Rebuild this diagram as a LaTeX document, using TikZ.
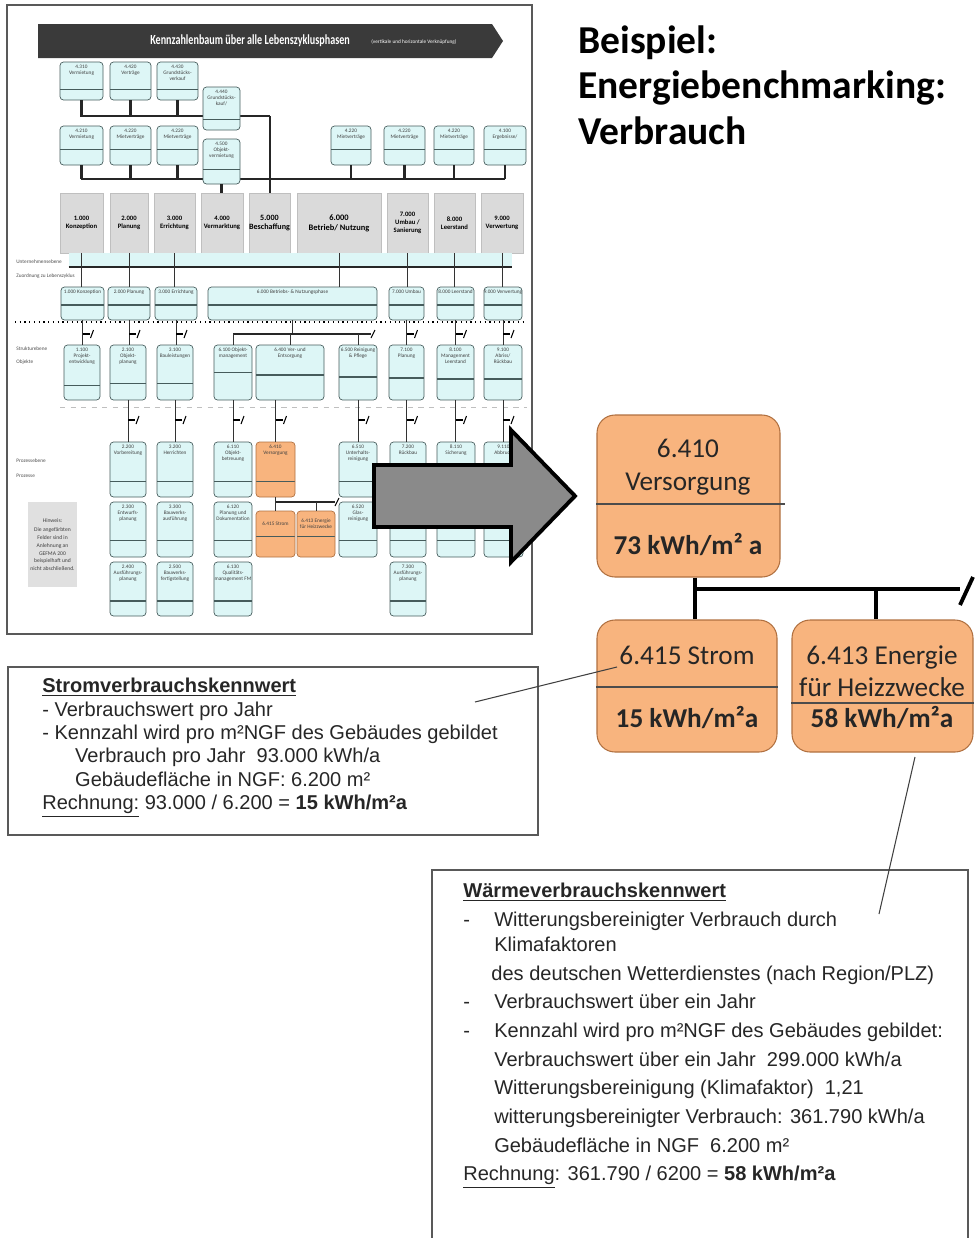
\documentclass[tikz,border=0pt]{standalone}
\usepackage{fontspec}
\setmainfont{Liberation Sans}
\newfontfamily\calibri{Carlito}
\usetikzlibrary{calc}

\definecolor{orangebox}{RGB}{248,180,126}
\definecolor{orangeline}{RGB}{176,112,64}
\definecolor{kfill}{RGB}{221,246,246}
\definecolor{kline}{RGB}{70,92,92}
\definecolor{phasefill}{RGB}{218,218,218}
\definecolor{bannergray}{RGB}{58,58,58}
\definecolor{arrowgray}{RGB}{138,138,138}

\begin{document}
\begin{tikzpicture}[
    x=0.02cm, y=-0.02cm,
    wh/.style 2 args={minimum width=#1*0.02cm, minimum height=#2*0.02cm},
    kbox/.style={draw=kline, fill=kfill, rounded corners=2pt, line width=0.4pt,
        inner sep=0pt, path picture={
        \draw[kline, line width=0.9pt]
            ($(path picture bounding box.north west)!#1!(path picture bounding box.south west)$) --
            ($(path picture bounding box.north east)!#1!(path picture bounding box.south east)$);}},
    kbox/.default=0.72,
    hbox/.style={kbox=#1, fill=orangebox, draw=orangeline},
    hbox/.default=0.72,
    klab/.style={font=\calibri\fontsize{3}{3.5}\selectfont, align=center,
        anchor=north, inner sep=0.5pt, yshift=-1pt, text=black!75},
    phase/.style={draw=black!25, fill=phasefill, inner sep=0pt, align=center,
        font=\calibri\bfseries\fontsize{3.8}{4.4}\selectfont},
    sidelab/.style={font=\calibri\fontsize{3}{3.5}\selectfont, anchor=west,
        inner sep=0pt, text=black!70},
    tline/.style={line width=1.2pt, black!85},
    fline/.style={line width=0.5pt, black!80},
    brk/.pic={\draw[line width=1.2pt] (0,0) -- (7,0);
        \draw[line width=0.6pt] (8,4) -- (11,-4);},
    frame/.style={draw=black!65, line width=0.9pt, inner sep=0pt},
    obox/.style={draw=orangeline, fill=orangebox, rounded corners=0.36cm, line width=0.6pt},
    otext/.style={font=\calibri\fontsize{15.5}{18}\selectfont, anchor=base,
        inner sep=0pt, text=black!85},
    ovalue/.style={otext, font=\calibri\bfseries\fontsize{15.5}{18}\selectfont},
    tree/.style={line width=2.8pt},
    lead/.style={line width=0.6pt, black!75}
]
    \useasboundingbox (0,0) rectangle (975,1238);

    \node[frame, wh={525}{629}] (thumb) at (269.5,319.5) {};
    \fill[bannergray] (38,24) -- (492,24) -- (503,41) -- (492,58) -- (38,58) -- cycle;
    \node[font=\calibri\bfseries\fontsize{7.2}{8}\selectfont, text=white, anchor=west,
        inner sep=0pt] (bannertitle) at (150,41)
        {\scalebox{0.8}[1.1]{Kennzahlenbaum über alle Lebenszyklusphasen}};
    \node[font=\calibri\fontsize{3}{3.5}\selectfont, text=white, anchor=west,
        inner sep=0pt] (bannersub) at (371,42) {(vertikale und horizontale Verknüpfung)};

    \node[kbox, wh={43}{38}, label={[klab]north:4.310\\Vermietung}] (t1) at (81.5,81) {};
    \node[kbox, wh={41}{38}, label={[klab]north:4.420\\Verträge}] (t2) at (130.5,81) {};
    \node[kbox, wh={41}{38}, label={[klab]north:4.430\\Grundstücks-\\verkauf}] (t3) at (177.5,81) {};
    \coordinate (j1) at (270,116);
    \draw[tline] (t1) |- (j1);
    \draw[tline] (t2) -- (t2 |- j1);
    \draw[tline] (t3) -- (t3 |- j1);
    \node[kbox=0.76, wh={37}{43}, label={[klab]north:4.440\\Grundstücks-\\kauf/}] (t4) at (221.5,108.5) {};

    \node[kbox=0.6, wh={43}{39}, label={[klab]north:4.210\\Vermietung}] (m1) at (81.5,145.5) {};
    \node[kbox=0.6, wh={41}{39}, label={[klab]north:4.220\\Mietverträge}] (m2) at (130.5,145.5) {};
    \node[kbox=0.6, wh={41}{39}, label={[klab]north:4.220\\Mietverträge}] (m3) at (177.5,145.5) {};
    \node[kbox=0.6, wh={40}{39}, label={[klab]north:4.220\\Mietverträge}] (r1) at (351,145.5) {};
    \node[kbox=0.6, wh={41}{39}, label={[klab]north:4.220\\Mietverträge}] (r2) at (404.5,145.5) {};
    \node[kbox=0.6, wh={40}{39}, label={[klab]north:4.220\\Mietverträge}] (r3) at (454,145.5) {};
    \node[kbox=0.6, wh={42}{39}, label={[klab]north:4.100\\Ergebnisse/}] (r4) at (505,145.5) {};
    \coordinate (j2) at (81,179);
    \coordinate (j3) at (505,179);
    \draw[tline] (j2) -- (j3);
    \draw[tline] (m1) -- (m1 |- j2);
    \draw[tline] (m2) -- (m2 |- j2);
    \draw[tline] (m3) -- (m3 |- j2);
    \draw[tline] (r1) -- (r1 |- j2);
    \draw[tline] (r2) -- (r2 |- j2);
    \draw[tline] (r3) -- (r3 |- j2);
    \draw[tline] (r4) -- (r4 |- j2);
    \node[kbox=0.68, wh={37}{45}, label={[klab]north:4.500\\Objekt-\\vermietung}] (m4) at (221.5,161.5) {};

    \node[phase, wh={43}{60}] (p1) at (81.5,223) {1.000\\Konzeption};
    \node[phase, wh={38}{60}] (p2) at (129,223) {2.000\\Planung};
    \node[phase, wh={41}{60}] (p3) at (174.5,223) {3.000\\Errichtung};
    \node[phase, wh={42}{60}] (p4) at (222,223) {4.000\\Vermarktung};
    \node[phase, wh={41}{60}, font=\calibri\bfseries\fontsize{4.6}{5.4}\selectfont] (p5) at (269.5,223) {5.000\\Beschaffung};
    \node[phase, wh={84}{60}, font=\calibri\bfseries\fontsize{4.8}{5.8}\selectfont] (p6) at (339,223) {6.000\\Betrieb/ Nutzung};
    \node[phase, wh={41}{60}] (p7) at (407.5,223) {7.000\\Umbau /\\Sanierung};
    \node[phase, wh={41}{60}] (p8) at (454.5,223) {8.000\\Leerstand};
    \node[phase, wh={42}{60}] (p9) at (502,223) {9.000\\Verwertung};
    \draw[tline] (j1) -- (j1 |- p5.north);
    \draw[tline] (m4) -- (m4 |- p4.north);

    \node[fill=kfill, inner sep=0pt, wh={443}{14}] (band) at (290.5,260) {};
    \draw[tline] (band.south west) -- (band.south east);
    \node[sidelab] (ebene1) at (16,262) {Unternehmensebene};
    \node[sidelab] (ebene1b) at (16,276) {Zuordnung zu Lebenszyklus};

    \node[kbox=0.55, wh={43}{33}, label={[klab]north:1.000 Konzeption}] (l1) at (82.5,303.5) {};
    \node[kbox=0.55, wh={42}{33}, label={[klab]north:2.000 Planung}] (l2) at (129,303.5) {};
    \node[kbox=0.55, wh={42}{33}, label={[klab]north:3.000 Errichtung}] (l3) at (176,303.5) {};
    \node[kbox=0.55, wh={169}{33}, label={[klab]north:6.000 Betriebs- \& Nutzungsphase}] (l6) at (292.5,303.5) {};
    \node[kbox=0.55, wh={35}{33}, label={[klab]north:7.000 Umbau}] (l7) at (406.5,303.5) {};
    \node[kbox=0.55, wh={37}{33}, label={[klab]north:8.000 Leerstand}] (l8) at (455.5,303.5) {};
    \node[kbox=0.55, wh={38}{33}, label={[klab]north:9.000 Verwertung}] (l9) at (503,303.5) {};
    \draw[fline] (p1.south) -- (p1.south |- l1.north);
    \draw[fline] (p2.south) -- (p2.south |- l2.north);
    \draw[fline] (p3.south) -- (p3.south |- l3.north);
    \draw[fline] (p6.south) -- (p6.south |- l6.north);
    \draw[fline] (p7.south) -- (p7.south |- l7.north);
    \draw[fline] (p8.south) -- (p8.south |- l8.north);
    \draw[fline] (p9.south) -- (p9.south |- l9.north);

    \draw[dotted, line width=0.7pt] (15,322) -- (527,322);
    \draw[black!25, dashed, line width=0.3pt] (60,407) -- (527,407);

    \node[sidelab] (ebene2) at (16,349) {Strukturebene};
    \node[sidelab] (ebene2b) at (16,362) {Objekte};
    \node[sidelab] (ebene3) at (16,461) {Prozessebene};
    \node[sidelab] (ebene3b) at (16,476) {Prozesse};

    \node[kbox=0.74, wh={36}{55}, label={[klab]north:1.100\\Projekt-\\entwicklung}] (s1) at (82,372.5) {};
    \node[kbox=0.7, wh={36}{55}, label={[klab]north:2.100\\Objekt-\\planung}] (s2) at (128,372.5) {};
    \node[kbox=0.7, wh={36}{55}, label={[klab]north:3.100\\Bauleistungen}] (s3) at (175,372.5) {};
    \node[kbox=0.5, wh={38}{55}, label={[klab]north:6.100 Objekt-\\management}] (s61) at (233,372.5) {};
    \node[kbox=0.55, wh={68}{55}, label={[klab]north:6.400 Ver- und\\Entsorgung}] (s64) at (290,372.5) {};
    \node[kbox=0.58, wh={38}{55}, label={[klab]north:6.500 Reinigung\\\& Pflege}] (s65) at (358,372.5) {};
    \node[kbox=0.6, wh={35}{55}, label={[klab]north:7.100\\Planung}] (s7) at (406.5,372.5) {};
    \node[kbox=0.62, wh={37}{55}, label={[klab]north:8.100\\Management\\Leerstand}] (s8) at (455.5,372.5) {};
    \node[kbox=0.62, wh={38}{55}, label={[klab]north:9.100\\Abriss/\\Rückbau}] (s9) at (503,372.5) {};
    \draw[fline] (l1.south) -- (l1.south |- s1.north);
    \draw[fline] (l2.south) -- (l2.south |- s2.north);
    \draw[fline] (l3.south) -- (l3.south |- s3.north);
    \draw[fline] (l7.south) -- (l7.south |- s7.north);
    \draw[fline] (l8.south) -- (l8.south |- s8.north);
    \draw[fline] (l9.south) -- (l9.south |- s9.north);
    \pic at (l1.south |- 0,334) {brk};
    \pic at (l2.south |- 0,334) {brk};
    \pic at (l3.south |- 0,334) {brk};
    \pic at (l7.south |- 0,334) {brk};
    \pic at (l8.south |- 0,334) {brk};
    \pic at (l9.south |- 0,334) {brk};
    \coordinate (j6) at (292,334);
    \coordinate (j6e) at (371,334);
    \draw[fline] (l6.south) -- (l6.south |- j6);
    \draw[tline] (s61.north |- j6) -- (j6e);
    \draw[line width=0.6pt] (j6e) ++(0,4) -- ++(4,-8);
    \draw[fline] (s61.north |- j6) -- (s61.north);
    \draw[fline] (s64.north |- j6) -- (s64.north);
    \draw[fline] (s65.north |- j6) -- (s65.north);

    \node[kbox, wh={36}{55}, label={[klab]north:2.200\\Vorbereitung}] (q2) at (128,469.5) {};
    \node[kbox, wh={36}{55}, label={[klab]north:3.200\\Herrichten}] (q3) at (175,469.5) {};
    \node[kbox, wh={38}{55}, label={[klab]north:6.110\\Objekt-\\betreuung}] (q61) at (233,469.5) {};
    \node[hbox, wh={39}{55}, label={[klab]north:6.410\\Versorgung}] (q64) at (275.5,469.5) {};
    \node[kbox, wh={38}{55}, label={[klab]north:6.510\\Unterhalts-\\reinigung}] (q65) at (358,469.5) {};
    \node[kbox, wh={36}{55}, label={[klab]north:7.200\\Rückbau}] (q7) at (408,469.5) {};
    \node[kbox, wh={38}{55}, label={[klab]north:8.110\\Sicherung}] (q8) at (456,469.5) {};
    \node[kbox, wh={39}{55}, label={[klab]north:9.110\\Abbruch}] (q9) at (503.5,469.5) {};
    \draw[fline] (q2.north |- s2.south) -- (q2.north);
    \draw[fline] (q3.north |- s3.south) -- (q3.north);
    \draw[fline] (q61.north |- s61.south) -- (q61.north);
    \draw[fline] (q64.north |- s64.south) -- (q64.north);
    \draw[fline] (q65.north |- s65.south) -- (q65.north);
    \draw[fline] (s7.south) -- (s7.south |- q7.north);
    \draw[fline] (s8.south) -- (s8.south |- q8.north);
    \draw[fline] (s9.south) -- (s9.south |- q9.north);
    \pic at (q2.north |- 0,420) {brk};
    \pic at (q3.north |- 0,420) {brk};
    \pic at (q61.north |- 0,420) {brk};
    \pic at (q64.north |- 0,420) {brk};
    \pic at (q65.north |- 0,420) {brk};
    \pic at (s7.south |- 0,420) {brk};
    \pic at (s8.south |- 0,420) {brk};
    \pic at (s9.south |- 0,420) {brk};

    \node[kbox=0.7, wh={36}{55}, label={[klab]north:2.300\\Entwurfs-\\planung}] (u2) at (128,529.5) {};
    \node[kbox=0.7, wh={36}{55}, label={[klab]north:3.300\\Bauwerks-\\ausführung}] (u3) at (175,529.5) {};
    \node[kbox=0.7, wh={38}{55}, label={[klab]north:6.120\\Planung und\\Dokumentation}] (u61) at (233,529.5) {};
    \node[hbox=0.55, wh={39}{46}, label={[klab, yshift=-5pt]north:6.415 Strom}] (u64a) at (275.5,534) {};
    \node[hbox=0.55, wh={38}{46}, label={[klab, yshift=-3pt]north:6.413 Energie\\für Heizzwecke}] (u64b) at (316,534) {};
    \node[kbox=0.7, wh={38}{55}, label={[klab]north:6.520\\Glas-\\reinigung}] (u65) at (358,529.5) {};
    \node[kbox=0.7, wh={36}{55}] (u7) at (408,529.5) {};
    \node[kbox=0.7, wh={38}{55}] (u8) at (456,529.5) {};
    \node[kbox=0.7, wh={39}{55}] (u9) at (503.5,529.5) {};
    \coordinate (jq) at (276,502);
    \coordinate (jqe) at (335,502);
    \draw[fline] (q64.south) -- (u64a.north);
    \draw[tline] (jq) -- (jqe);
    \draw[line width=0.6pt] (jqe) ++(0,4) -- ++(4,-8);
    \draw[fline] (u64b.north |- jq) -- (u64b.north);

    \node[kbox, wh={36}{54}, label={[klab]north:2.400\\Ausführungs-\\planung}] (v2) at (128,589) {};
    \node[kbox, wh={36}{54}, label={[klab]north:2.500\\Bauwerks-\\fertigstellung}] (v3) at (175,589) {};
    \node[kbox, wh={38}{54}, label={[klab]north:6.130\\Qualitäts-\\management FM}] (v61) at (233,589) {};
    \node[kbox, wh={36}{54}, label={[klab]north:7.300\\Ausführungs-\\planung}] (v7) at (408,589) {};

    \node[fill=black!12, wh={49}{85}, inner sep=1pt, align=center,
        font=\calibri\fontsize{3.2}{4.4}\selectfont, text=black!75] (hinweis) at (52.5,544.5)
        {Hinweis:\\[1pt]Die angefärbten\\Felder sind in\\Anlehnung an\\GEFMA 200\\beispielhaft und\\nicht abschließend.};

    \draw[line width=2.2pt, fill=arrowgray, line join=miter]
        (374,465) -- (511,465) -- (511,430) -- (575,496) -- (511,562) -- (511,527) -- (374,527) -- cycle;

    \node[anchor=north west, inner sep=0pt, align=left,
        font=\calibri\bfseries\fontsize{22.5}{26}\selectfont] (titel) at (578,25)
        {Beispiel:\\Energiebenchmarking:\\Verbrauch};

    \node[obox, wh={183}{162}] (versorgung) at (688.5,496) {};
    \node[obox, wh={180}{132}] (strom) at (687,686) {};
    \node[obox, wh={181}{132}] (heizung) at (882.5,686) {};
    \draw[black!70, line width=0.7pt] (versorgung.west |- 0,504) -- (785,504);
    \draw[black!70, line width=0.7pt] (strom.west |- 0,687) -- (strom.east |- 0,687);
    \draw[black!70, line width=0.7pt] (heizung.west |- 0,703) -- (heizung.east |- 0,703);
    \node[otext] (vnum) at (688,457) {6.410};
    \node[otext] (vname) at (688,490) {Versorgung};
    \node[ovalue] (vval) at (688,554) {73 kWh/m² a};
    \node[otext] (snum) at (687,664) {6.415 Strom};
    \node[ovalue] (sval) at (687,727) {15 kWh/m²a};
    \node[otext] (hnum) at (882,664) {6.413 Energie};
    \node[otext] (hname) at (882,696) {für Heizzwecke};
    \node[ovalue] (hval) at (882,727) {58 kWh/m²a};

    \coordinate (jv) at (695,589);
    \coordinate (jh) at (876,589);
    \coordinate (jend) at (960,589);
    \draw[tree] (jv |- versorgung.south) -- (jv |- strom.north);
    \draw[tree] (jv) -- (jend);
    \draw[tree] (jh) -- (jh |- heizung.north);
    \draw[tree, line width=2.2pt] (jend) ++(0,16) -- ++(13,-28);

    \node[frame, wh={530}{168}] (stromkasten) at (273,751) {};
    \node[anchor=north west, inner sep=0pt, align=left, text=black!85,
        font=\fontsize{11.4}{13.3}\selectfont] (stromtext) at (42,678)
        {\textbf{\underline{Stromverbrauchskennwert}}\\
        - Verbrauchswert pro Jahr\\
        - Kennzahl wird pro m²NGF des Gebäudes gebildet\\
        \hspace*{18.7pt}Verbrauch pro Jahr~ 93.000 kWh/a\\
        \hspace*{18.7pt}Gebäudefläche in NGF: 6.200 m²\\
        \underline{Rechnung:} 93.000 / 6.200 = \textbf{15 kWh/m²a}};

    \node[frame, wh={536}{380}] (waermekasten) at (700,1060) {};
    \node[anchor=north west, inner sep=0pt, align=left, text=black!85,
        font=\fontsize{11.4}{16.3}\selectfont] (waermetext) at (463,883)
        {\textbf{\underline{Wärmeverbrauchskennwert}}\\
        \makebox[17.6pt][l]{-}Witterungsbereinigter Verbrauch durch\\[-2pt]
        \hspace*{17.6pt}Klimafaktoren\\
        \hspace*{16pt}des deutschen Wetterdienstes (nach Region/PLZ)\\
        \makebox[17.6pt][l]{-}Verbrauchswert über ein Jahr\\
        \makebox[17.6pt][l]{-}Kennzahl wird pro m²NGF des Gebäudes gebildet:\\
        \hspace*{17.6pt}Verbrauchswert über ein Jahr~ 299.000 kWh/a\\
        \hspace*{17.6pt}Witterungsbereinigung (Klimafaktor)~ 1,21\\
        \hspace*{17.6pt}witterungsbereinigter Verbrauch: 361.790 kWh/a\\
        \hspace*{17.6pt}Gebäudefläche in NGF~ 6.200 m²\\
        \underline{Rechnung}: 361.790 / 6200 = \textbf{58 kWh/m²a}};

    \coordinate (stromzeiger) at (475,702);
    \coordinate (stromspitze) at (617,667);
    \coordinate (waermezeiger) at (879,914);
    \coordinate (waermespitze) at (915,757);
    \draw[lead] (stromzeiger) -- (stromspitze);
    \draw[lead] (waermespitze) -- (waermezeiger);
\end{tikzpicture}
\end{document}
